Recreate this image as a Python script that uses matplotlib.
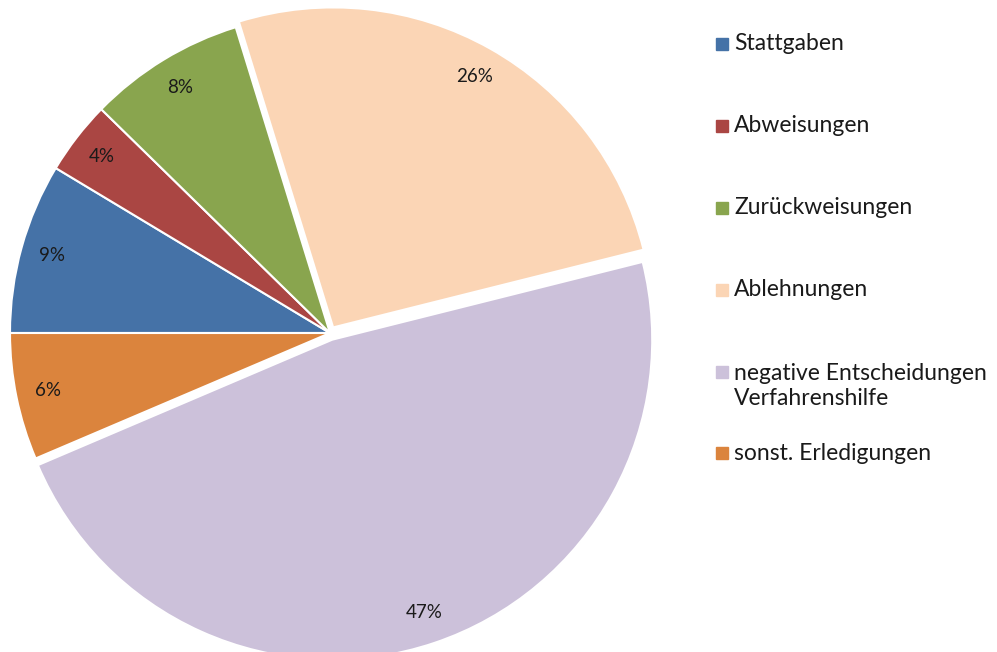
import matplotlib.pyplot as plt
from matplotlib.patches import Rectangle

plt.rcParams['font.family'] = ['Lato', 'DejaVu Sans']

labels = ["Stattgaben", "Abweisungen", "Zurückweisungen", "Ablehnungen",
          "negative Entscheidungen\nVerfahrenshilfe", "sonst. Erledigungen"]
values = [8.6, 3.7, 7.9, 25.8, 47.4, 6.4]
colors = ["#4572A7", "#AA4643", "#89A54E", "#FBD5B5", "#CCC1DA", "#DB843D"]
explode = [0, 0, 0, 0.02, 0.022, 0]

fig = plt.figure(figsize=(9.97, 6.52), dpi=100)
ax = fig.add_axes([10 / 997, -1 / 652, 640 / 997, 640 / 652])

wedges, texts, autotexts = ax.pie(
    values, colors=colors, explode=explode, startangle=180, counterclock=False,
    autopct='%.0f%%', pctdistance=0.9, radius=1,
    wedgeprops=dict(edgecolor='white', linewidth=1.5),
    textprops=dict(fontsize=13.5, color='#1a1a1a'))
for w in wedges:
    w.set_clip_on(False)
ax.set_xlim(-1, 1)
ax.set_ylim(-1, 1)
ax.set_aspect('equal')
ax.axis('off')

# legend drawn by hand to match the spacing
rows_y = [44, 126, 208, 290, 372, 453]
for lab, col, y in zip(labels, colors, rows_y):
    fig.patches.append(Rectangle((716 / 997, 1 - (y + 6) / 652), 12 / 997, 12 / 652,
                                 transform=fig.transFigure, color=col))
    if '\n' in lab:
        fig.text(734 / 997, 1 - (y + 14) / 652, lab, fontsize=16.5, color='#1a1a1a',
                 va='center', ha='left', linespacing=1.25)
    else:
        fig.text(734 / 997, 1 - y / 652, lab, fontsize=16.5, color='#1a1a1a',
                 va='center', ha='left')

fig.savefig("out.png", dpi=100)
